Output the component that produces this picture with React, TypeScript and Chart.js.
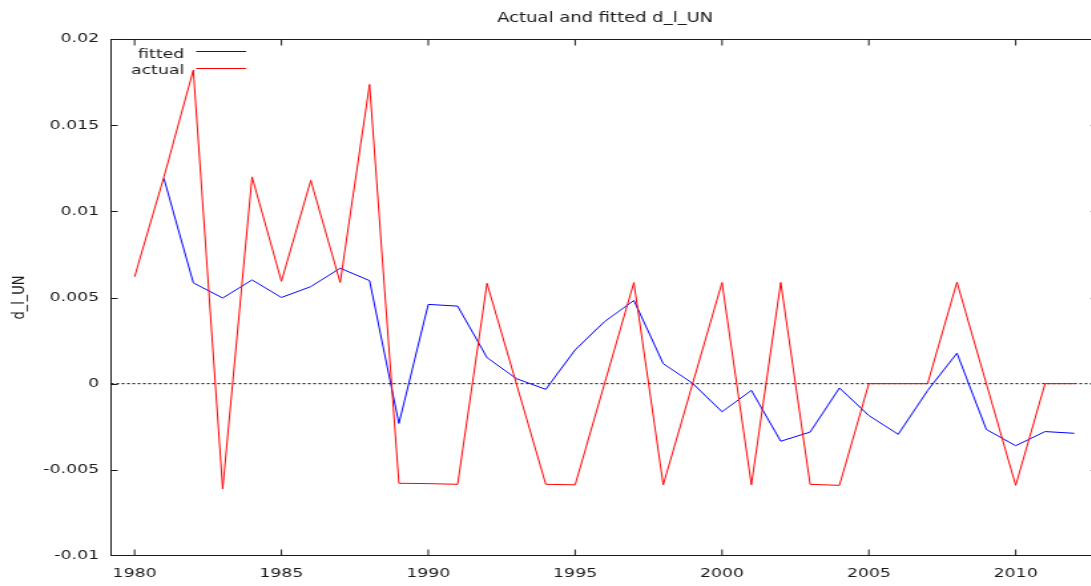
import React, { useEffect, useRef } from 'react';
import { Chart, registerables } from 'chart.js';

Chart.register(...registerables);

// ---- data ----
const years = [
  1980, 1981, 1982, 1983, 1984, 1985, 1986, 1987, 1988, 1989, 1990,
  1991, 1992, 1993, 1994, 1995, 1996, 1997, 1998, 1999, 2000,
  2001, 2002, 2003, 2004, 2005, 2006, 2007, 2008, 2009, 2010,
  2011, 2012,
];

const actual = [
  0.0062, 0.012, 0.0182, -0.0061, 0.012, 0.00594, 0.0118, 0.00587, 0.01736, -0.00578, -0.0058,
  -0.00584, 0.00582, 0, -0.00584, -0.00587, 0, 0.00587, -0.00587, 0, 0.00587,
  -0.00587, 0.00587, -0.00584, -0.0059, 0, 0, 0, 0.00589, 0, -0.0059,
  0, 0,
];

const fitted = [
  null, 0.0119, 0.00585, 0.00497, 0.00602, 0.005, 0.00563, 0.0067, 0.00598, -0.00231, 0.0046,
  0.0045, 0.00151, 0.00029, -0.00033, 0.00196, 0.0036, 0.00483, 0.00116, 0.00002, -0.00163,
  -0.00039, -0.00334, -0.00281, -0.00025, -0.00185, -0.00294, -0.0004, 0.00177, -0.00266, -0.0036,
  -0.00278, -0.00288,
];

const xTicks = [1980, 1985, 1990, 1995, 2000, 2005, 2010];
const yTicks = [-0.01, -0.005, 0, 0.005, 0.01, 0.015, 0.02];
const yTickLabels = ['-0.01', '-0.005', '0', '0.005', '0.01', '0.015', '0.02'];
const seriesLabels = ['fitted', 'actual'];
const chartTitle = 'Actual and fitted d_l_UN';
const yAxisTitle = 'd_l_UN';

// ---- layout / style ----
const X_MIN = 1979.2;
const X_MAX = 2012.78;
const Y_MIN = -0.01;
const Y_MAX = 0.02;
const X_STRETCH = 1.33;
const CANVAS_W = 830;
const CANVAS_H = 586;
const FONT = '"DejaVu Sans", sans-serif';
const INK = '#1a1a1a';
const BLUE = '#0000ff';
const RED = '#ff0000';

export default function App() {
  const ref = useRef<HTMLCanvasElement>(null);

  useEffect(() => {
    const canvas = ref.current;
    if (!canvas) return;

    const framePlugin = {
      id: 'gnuplotFrame',
      beforeDatasetsDraw(chart: any) {
        const { ctx, chartArea: a, scales } = chart;
        const top = Math.round(a.top) + 0.5;
        const bottom = Math.round(a.bottom) - 0.5;
        ctx.save();
        ctx.strokeStyle = INK;
        ctx.lineWidth = 1;
        ctx.strokeRect(a.left, top, a.right - a.left, bottom - top);
        ctx.beginPath();
        for (const t of scales.x.ticks) {
          const px = scales.x.getPixelForValue(t.value);
          ctx.moveTo(px, bottom);
          ctx.lineTo(px, bottom - 6);
          ctx.moveTo(px, top);
          ctx.lineTo(px, top + 6);
        }
        for (const t of scales.y.ticks) {
          let py = Math.round(scales.y.getPixelForValue(t.value)) + 0.5;
          py = Math.min(Math.max(py, top), bottom);
          ctx.moveTo(a.left, py);
          ctx.lineTo(a.left + 5, py);
          ctx.moveTo(a.right, py);
          ctx.lineTo(a.right - 5, py);
        }
        ctx.stroke();
        ctx.restore();
      },
      afterDraw(chart: any) {
        const { ctx } = chart;
        ctx.save();
        ctx.fillStyle = INK;
        ctx.font = `13.5px ${FONT}`;
        ctx.textAlign = 'center';
        ctx.textBaseline = 'alphabetic';
        ctx.fillText(chartTitle, 455, 22);

        ctx.font = `13px ${FONT}`;
        ctx.textAlign = 'right';
        const rows = [
          { label: seriesLabels[0], color: BLUE, base: 57.5, lineY: 51.5 },
          { label: seriesLabels[1], color: RED, base: 74, lineY: 68.5 },
        ];
        for (const r of rows) {
          ctx.fillStyle = INK;
          ctx.fillText(r.label, 138.5, r.base);
          ctx.strokeStyle = r.color;
          ctx.lineWidth = 1;
          ctx.beginPath();
          ctx.moveTo(147.5, r.lineY);
          ctx.lineTo(185, r.lineY);
          ctx.stroke();
        }
        ctx.restore();
      },
    };

    const chart = new Chart(canvas, {
      type: 'line',
      data: {
        datasets: [
          {
            label: seriesLabels[1],
            data: years.map((y, i) => ({ x: y, y: actual[i] })),
            borderColor: RED,
            borderWidth: 1,
            pointRadius: 0,
            tension: 0,
            order: 0,
          },
          {
            label: seriesLabels[0],
            data: years.map((y, i) => ({ x: y, y: fitted[i] })),
            borderColor: BLUE,
            borderWidth: 1,
            pointRadius: 0,
            tension: 0,
            order: 1,
          },
          {
            label: 'zero',
            data: [
              { x: X_MIN, y: 0 },
              { x: X_MAX, y: 0 },
            ],
            borderColor: '#000000',
            borderWidth: 1,
            borderDash: [2, 2],
            pointRadius: 0,
            order: 2,
          },
        ],
      },
      options: {
        responsive: false,
        animation: false,
        devicePixelRatio: 1,
        events: [],
        layout: { padding: { top: 39, right: 5, left: 0, bottom: 0 } },
        plugins: {
          legend: { display: false },
          title: { display: false },
          tooltip: { enabled: false },
        },
        scales: {
          x: {
            type: 'linear',
            min: X_MIN,
            max: X_MAX,
            grid: { display: false, drawTicks: false },
            border: { display: false },
            afterBuildTicks: (s: any) => {
              s.ticks = xTicks.map((v) => ({ value: v }));
            },
            afterFit: (s: any) => {
              s.height = 30;
            },
            ticks: {
              autoSkip: false,
              maxRotation: 0,
              minRotation: 0,
              padding: 10,
              color: INK,
              font: { family: FONT, size: 13 },
              callback: (v: any) => String(v),
            },
          },
          y: {
            type: 'linear',
            min: Y_MIN,
            max: Y_MAX,
            grid: { display: false, drawTicks: false },
            border: { display: false },
            afterBuildTicks: (s: any) => {
              s.ticks = yTicks.map((v) => ({ value: v }));
            },
            afterFit: (s: any) => {
              s.width = 83.5;
            },
            title: {
              display: true,
              text: yAxisTitle,
              color: INK,
              font: { family: FONT, size: 13 },
              padding: { top: 7, bottom: 0 },
            },
            ticks: {
              autoSkip: false,
              padding: 9,
              color: INK,
              font: { family: FONT, size: 13 },
              callback: (_v: any, i: number) => yTickLabels[i],
            },
          },
        },
      },
      plugins: [framePlugin],
    } as any);

    return () => chart.destroy();
  }, []);

  return (
    <div
      style={{
        position: 'absolute',
        left: 0,
        top: 0,
        width: 1091,
        height: 586,
        overflow: 'hidden',
        background: '#ffffff',
      }}
    >
      <canvas
        ref={ref}
        width={CANVAS_W}
        height={CANVAS_H}
        style={{ display: 'block', width: `${CANVAS_W * X_STRETCH}px`, height: `${CANVAS_H}px` }}
      />
    </div>
  );
}
